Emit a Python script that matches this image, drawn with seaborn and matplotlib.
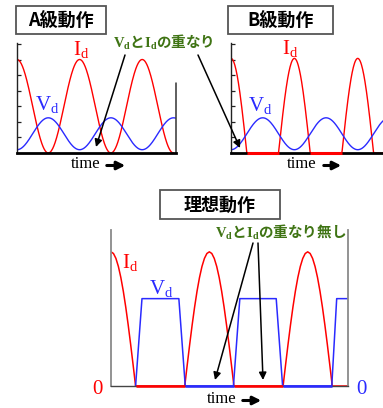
import numpy as np
import pandas as pd
import matplotlib
matplotlib.use("Agg")
import matplotlib.pyplot as plt
from matplotlib.patches import Rectangle, FancyArrowPatch
import seaborn as sns

sns.set_theme(style="white")
plt.rcParams["font.family"] = ["Noto Sans CJK JP", "DejaVu Sans"]
plt.rcParams["mathtext.fontset"] = "custom"
plt.rcParams["mathtext.rm"] = "Liberation Serif"
plt.rcParams["mathtext.it"] = "Liberation Serif"
plt.rcParams["mathtext.bf"] = "Liberation Serif:bold"

RED = "#ff0000"
BLUE = "#2a2aff"
GREEN = "#3f7414"
SERIF = "Liberation Serif"

# ---- waveform values (amplitude normalised to axis height, time in RF periods) ----
titles = ["A級動作", "B級動作", "理想動作"]
overlap_label = r"$\mathbf{V}_{\mathbf{d}}$と$\mathbf{I}_{\mathbf{d}}$の重なり"
no_overlap_label = r"$\mathbf{V}_{\mathbf{d}}$と$\mathbf{I}_{\mathbf{d}}$の重なり無し"

id_peak = [0.85, 0.86, 0.86]          # drain-current peak for A, B, ideal
vd_swing = [0.03, 0.32]               # drain-voltage min / max (A, B)
t_end = [2.54, 2.43, 2.41]            # visible time span per panel
id_span_a = 2.50
vd_span_a = 2.53
cutoff_b = [(0.25, 0.75), (1.25, 1.75)]       # B: current off intervals
ideal_vd_t = [0.25, 0.315, 0.69, 0.755, 1.245, 1.31, 1.68, 1.745, 2.245, 2.295, 2.41]
ideal_vd_v = [0.0, 0.56, 0.56, 0.0, 0.0, 0.56, 0.56, 0.0, 0.0, 0.56, 0.56]
ideal_id_off = [(0.25, 0.75), (1.25, 1.75)]   # current zero while voltage is high
ideal_vd_off = [(0.75, 1.25), (1.75, 2.25)]   # voltage zero while current flows

W, H = 383, 408
fig = plt.figure(figsize=(W / 100, H / 100), dpi=100)


def px_axes(x0, y0, x1, y1):
    return fig.add_axes([x0 / W, 1 - y1 / H, (x1 - x0) / W, (y1 - y0) / H])


def wave(ax, t, y, color, lw=1.0):
    df = pd.DataFrame({"t": t, "y": y})
    sns.lineplot(data=df, x="t", y="y", ax=ax, color=color, lw=lw,
                 estimator=None, sort=False, legend=False)


def style_small(ax, xmax):
    ax.set_xlim(0, xmax)
    ax.set_ylim(0, 1)
    ax.set_xlabel("")
    ax.set_ylabel("")
    ax.set_xticks([])
    ax.set_yticks(np.arange(1, 8) * 0.141)
    ax.set_yticklabels([])
    ax.tick_params(axis="y", direction="in", length=3, width=0.9,
                   color="#222222", left=True)
    for s in ["top", "right"]:
        ax.spines[s].set_visible(False)
    ax.spines["left"].set_color("#222222")
    ax.spines["left"].set_linewidth(1.0)
    ax.spines["bottom"].set_color("black")
    ax.spines["bottom"].set_linewidth(2.0)
    ax.patch.set_alpha(0)


# ---- A-class ----
ax_a = px_axes(17, 43, 176, 153)
t = np.linspace(0, id_span_a, 400)
wave(ax_a, t, id_peak[0] * (1 + np.cos(2 * np.pi * t)) / 2, RED)
t = np.linspace(0, vd_span_a, 400)
wave(ax_a, t, vd_swing[0] + (vd_swing[1] - vd_swing[0]) * (1 - np.cos(2 * np.pi * t)) / 2, BLUE)
style_small(ax_a, t_end[0])
ax_a.axvline(t_end[0], ymin=0, ymax=0.636, color="#333333", lw=1.1, clip_on=False)

# ---- B-class ----
ax_b = px_axes(231, 43, 383 + 2, 153)
t = np.linspace(0, t_end[1], 400)
wave(ax_b, t, id_peak[1] * np.clip(np.cos(2 * np.pi * t), 0, None), RED)
wave(ax_b, t, vd_swing[0] + (vd_swing[1] - vd_swing[0]) * (1 - np.cos(2 * np.pi * t)) / 2, BLUE)
style_small(ax_b, t_end[1])
for a, b in cutoff_b:
    ax_b.plot([a, b], [0, 0], color=RED, lw=2.2, clip_on=False, zorder=5,
              solid_capstyle="butt")

# ---- ideal ----
ax_c = px_axes(111, 230, 348, 386)
t = np.arange(0, t_end[2] + 1e-9, 0.025)
wave(ax_c, t, id_peak[2] * np.clip(np.cos(2 * np.pi * t), 0, None), RED, lw=1.1)
wave(ax_c, ideal_vd_t, ideal_vd_v, BLUE, lw=1.1)
ax_c.set_xlim(0, t_end[2])
ax_c.set_ylim(0, 1)
ax_c.set_xlabel("")
ax_c.set_ylabel("")
ax_c.set_xticks([])
ax_c.set_yticks([])
ax_c.spines["top"].set_visible(False)
for s in ["left", "right"]:
    ax_c.spines[s].set_color("#8a8a8a")
    ax_c.spines[s].set_linewidth(1.3)
ax_c.spines["bottom"].set_color("#444444")
ax_c.spines["bottom"].set_linewidth(1.0)
ax_c.patch.set_alpha(0)
for a, b in ideal_id_off:
    ax_c.plot([a, b], [0, 0], color=RED, lw=1.8, clip_on=False, zorder=5,
              solid_capstyle="butt")
for a, b in ideal_vd_off:
    ax_c.plot([a, b], [0, 0], color=BLUE, lw=1.8, clip_on=False, zorder=5,
              solid_capstyle="butt")

# ---- annotation layer in pixel coordinates ----
ov = fig.add_axes([0, 0, 1, 1], zorder=10)
ov.set_xlim(0, W)
ov.set_ylim(H, 0)
ov.axis("off")
ov.patch.set_alpha(0)

# title boxes
for (x0, y0, x1, y1), title in zip([(16, 6, 106, 34), (228, 6, 333, 34), (160, 190, 280, 219)], titles):
    ov.add_patch(Rectangle((x0, y0), x1 - x0, y1 - y0, facecolor="white",
                           edgecolor="#555555", lw=1.3))
    ov.text((x0 + x1) / 2, (y0 + y1) / 2 + 0.5, title, ha="center", va="center",
            fontsize=13, fontweight="bold", color="black")

# curve names
for x, y, s, c in [(81, 49, r"$\mathrm{I_d}$", RED), (47, 104, r"$\mathrm{V_d}$", BLUE),
                   (290, 48, r"$\mathrm{I_d}$", RED), (260, 105, r"$\mathrm{V_d}$", BLUE),
                   (130, 262, r"$\mathrm{I_d}$", RED), (161, 288, r"$\mathrm{V_d}$", BLUE)]:
    ov.text(x, y, s, ha="center", va="center", fontsize=15, color=c)

ov.text(97, 390, "0", ha="center", va="center", fontsize=15, color=RED, fontfamily=SERIF)
ov.text(361, 390, "0", ha="center", va="center", fontsize=15, color=BLUE, fontfamily=SERIF)

# time axis captions
for x, y, a0, a1 in [(86, 164, 104, 128), (302, 164, 321, 344), (222, 399, 240, 264)]:
    ov.text(x, y, "time", ha="center", va="center", fontsize=12, color="black",
            fontfamily=SERIF)
    ov.add_patch(FancyArrowPatch((a0, y + 1.5), (a1, y + 1.5), arrowstyle="-|>",
                                 mutation_scale=12, lw=2.2, color="black"))

# overlap notes
ov.text(163, 42, overlap_label, ha="center", va="center", fontsize=10.5,
        fontweight="bold", color=GREEN)
ov.text(281, 232, no_overlap_label, ha="center", va="center", fontsize=10.5,
        fontweight="bold", color=GREEN)
for p0, p1 in [((125, 55), (96, 147)), ((198, 55), (240, 148)),
               ((253, 243), (215, 380)), ((258, 243), (263, 380))]:
    ov.add_patch(FancyArrowPatch(p0, p1, arrowstyle="-|>", mutation_scale=11,
                                 lw=1.1, color="black", shrinkA=0, shrinkB=0))

fig.savefig("out.png", dpi=100)
